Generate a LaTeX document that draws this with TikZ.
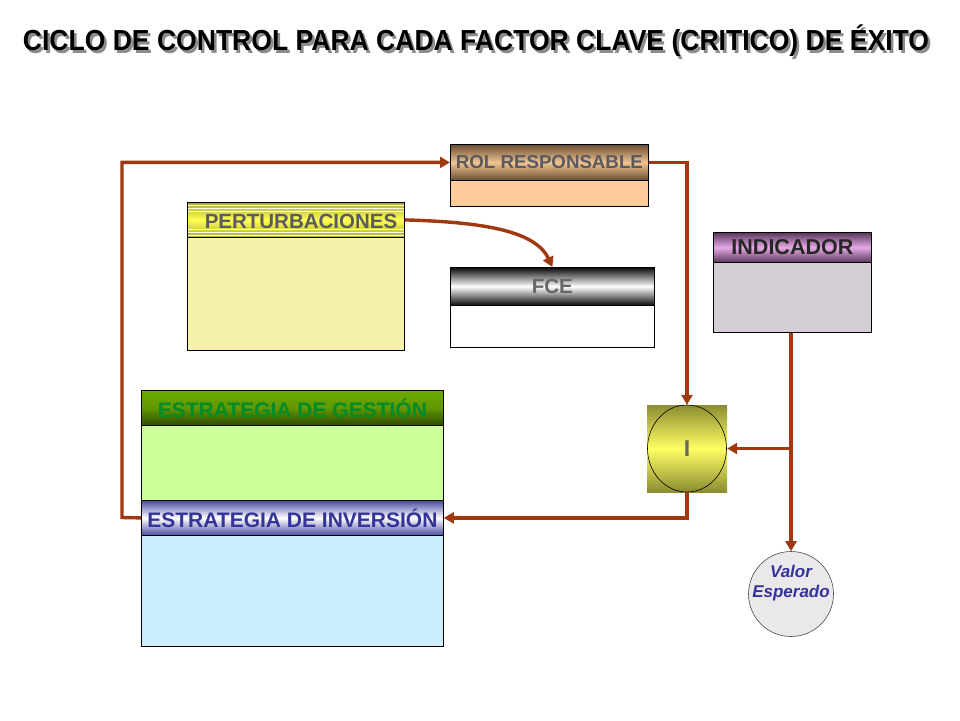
\documentclass[tikz,border=0pt]{standalone}
\usepackage{graphicx}
\usepackage{fontspec}
\setmainfont{Liberation Sans}
\usetikzlibrary{shapes.geometric,arrows.meta}
\definecolor{conn}{RGB}{160,56,16}
\definecolor{rolD}{RGB}{105,78,50}
\definecolor{rolM}{RGB}{240,196,146}
\definecolor{rolB}{RGB}{255,204,153}
\definecolor{perD}{RGB}{170,170,60}
\definecolor{perM}{RGB}{255,255,80}
\definecolor{perB}{RGB}{245,240,170}
\definecolor{fceD}{RGB}{10,10,10}
\definecolor{indD}{RGB}{90,55,90}
\definecolor{indM}{RGB}{230,170,230}
\definecolor{indB}{RGB}{214,206,214}
\definecolor{gesT}{RGB}{110,170,0}
\definecolor{gesD}{RGB}{45,75,0}
\definecolor{gesB}{RGB}{204,255,153}
\definecolor{gesTx}{RGB}{0,140,40}
\definecolor{invD}{RGB}{75,75,160}
\definecolor{invB}{RGB}{204,236,255}
\definecolor{blueTx}{RGB}{51,51,153}
\definecolor{iD}{RGB}{140,140,50}
\definecolor{iM}{RGB}{255,255,100}
\definecolor{grayTx}{RGB}{90,90,95}
\definecolor{veB}{RGB}{234,232,234}
\newcommand{\titletext}{\scalebox{0.915}[1]{CICLO DE CONTROL PARA CADA FACTOR CLAVE (CRITICO) DE ÉXITO}}
\tikzset{
  hdr/.style={draw=black, line width=0.8pt, inner sep=0pt, anchor=north west,
    font=\bfseries\fontsize{20.5}{21}\selectfont},
  bodybox/.style={draw=black, line width=0.8pt, inner sep=0pt, anchor=north west},
  arr/.style={draw=conn, line width=3.4pt, -{Triangle[length=10pt,width=11pt]}},
}
\begin{document}
\begin{tikzpicture}[x=1pt,y=-1pt]
\useasboundingbox[fill=white] (0,0) rectangle (960,720);
% title with shadow
\node[font=\bfseries\fontsize{29}{29}\selectfont, text=black] (title) at (476,42)
  {\makebox[0pt][l]{\hspace{2.5pt}\raisebox{-2.5pt}{\color{black!45}\titletext}}\titletext};
% ROL RESPONSABLE
\node[bodybox, fill=rolB, minimum width=198pt, minimum height=26pt] (rolb) at (450,180) {};
\node[hdr, top color=rolD, bottom color=rolD, middle color=rolM, text=grayTx,
  minimum width=198pt, minimum height=36pt, font=\bfseries\fontsize{18.7}{19}\selectfont] (rolh) at (450,144) {ROL RESPONSABLE};
% PERTURBACIONES
\node[bodybox, fill=perB, minimum width=217pt, minimum height=113pt] (perb) at (187,237) {};
\node[hdr, top color=perD, bottom color=perD, middle color=perM,
  minimum width=217pt, minimum height=35pt] (perh) at (187,202) {};
\foreach \yy in {205,208,211,229,232,235}
  \draw[white!80!perM, line width=0.8pt] (187.5,\yy) -- (403.5,\yy);
\node[font=\bfseries\fontsize{20.5}{21}\selectfont, text=grayTx] (pert) at (301,221) {PERTURBACIONES};
% FCE
\node[bodybox, fill=white, minimum width=204pt, minimum height=42pt] (fceb) at (450,305) {};
\node[hdr, top color=fceD, bottom color=fceD, middle color=white, text=black!60,
  minimum width=204pt, minimum height=38pt] (fceh) at (450,267) {FCE};
% INDICADOR
\node[bodybox, fill=indB, minimum width=158pt, minimum height=70pt] (indb) at (713,262) {};
\node[hdr, top color=indD, bottom color=indD, middle color=indM, text=black!85,
  minimum width=158pt, minimum height=30pt, font=\bfseries\fontsize{21.5}{22}\selectfont] (indh) at (713,232) {INDICADOR};
% ESTRATEGIA DE GESTION
\node[bodybox, fill=gesB, minimum width=302pt, minimum height=75pt] (gesb) at (141,425) {};
\node[hdr, top color=gesT, bottom color=gesD, middle color=gesT!80!gesD, text=gesTx,
  minimum width=302pt, minimum height=35pt, font=\bfseries\fontsize{21}{22}\selectfont] (gesh) at (141,390) {ESTRATEGIA DE GESTIÓN};
% ESTRATEGIA DE INVERSION
\node[bodybox, fill=invB, minimum width=302pt, minimum height=111pt] (invb) at (141,535) {};
\node[hdr, top color=invD, bottom color=invD, middle color=white, text=blueTx,
  minimum width=302pt, minimum height=35pt, font=\bfseries\fontsize{21}{22}\selectfont] (invh) at (141,500) {ESTRATEGIA DE INVERSIÓN};
% I node
\node[rectangle, inner sep=0pt, top color=iD, bottom color=iD, middle color=iM,
  minimum width=80pt, minimum height=87pt] (iq) at (687,448.5) {};
\node[ellipse, draw=black, line width=0.6pt, inner sep=0pt, minimum width=79pt, minimum height=87pt,
  font=\bfseries\fontsize{23}{23}\selectfont, text=black!60] (ie) at (687,448.5) {I};
% Valor Esperado
\node[circle, draw=black!70, line width=0.6pt, fill=veB, minimum size=85pt, inner sep=0pt] (ve) at (791,594) {};
\node[font=\bfseries\itshape\fontsize{17}{20}\selectfont, text=blueTx, align=center, inner sep=0pt] (vet) at (791,583) {Valor\\Esperado};
% connectors
\coordinate (lc) at (122,517.5);
\coordinate (jn) at (791,448.5);
\draw[arr] (invh.west) -- (lc) |- (rolh.west);
\draw[arr] (rolh.east) -| (iq.north);
\draw[arr] (perh.east) .. controls (480,222) and (535,230) .. (fceh.north);
\draw[arr] (indb.south -| ve.north) -- (ve.north);
\draw[arr] (jn) -- (iq.east);
\draw[arr] (iq.south) |- (invh.east);
\end{tikzpicture}
\end{document}
